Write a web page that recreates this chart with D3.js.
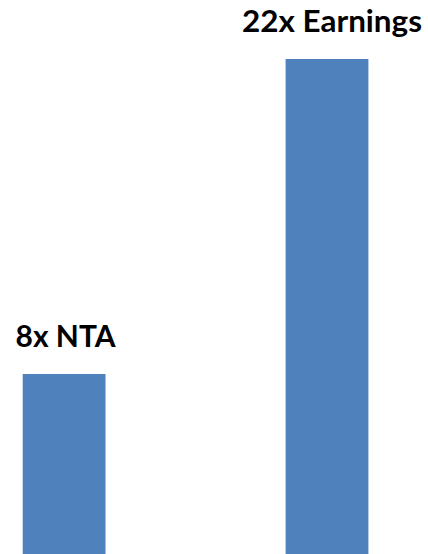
<!DOCTYPE html>
<html><head><meta charset="utf-8">
<script src="https://cdn.jsdelivr.net/npm/d3@7"></script>
<style>html,body{margin:0;padding:0;background:#fff;}svg{display:block;}</style>
</head><body>
<svg id="chart" width="428" height="554"></svg>
<script>
const categories = ["NTA", "Earnings"];
const values = [8, 22];
const labels = ["8x NTA", "22x Earnings"];

// layout
const W = 428, H = 554;
const labelWidths = [100, 180];
const labelDx = [1.5, 5];

const svg = d3.select("#chart");
const x = d3.scaleBand().domain(categories).range([22.7, 368.4]).paddingInner(0.685).paddingOuter(0);
const y = d3.scaleLinear().domain([0, 22]).range([H, 59]);

svg.selectAll("rect.bar").data(categories).join("rect")
  .attr("class", "bar")
  .attr("x", d => x(d))
  .attr("y", (d, i) => y(values[i]))
  .attr("width", x.bandwidth())
  .attr("height", (d, i) => H - y(values[i]))
  .attr("fill", "#4F81BD");

const t = svg.selectAll("text.lbl").data(categories).join("text")
  .attr("class", "lbl")
  .attr("x", (d, i) => x(d) + x.bandwidth() / 2 + labelDx[i])
  .attr("y", (d, i) => y(values[i]) - 27)
  .attr("text-anchor", "middle")
  .attr("font-family", "Lato, 'Open Sans', sans-serif")
  .attr("font-weight", "bold")
  .attr("font-size", 31)
  .attr("fill", "#000")
  .text((d, i) => labels[i]);

t.each(function(d, i) {
  const w = this.getComputedTextLength();
  if (Math.abs(w - labelWidths[i]) > 2) {
    d3.select(this).attr("textLength", labelWidths[i]).attr("lengthAdjust", "spacingAndGlyphs");
  }
});
</script>
</body></html>
